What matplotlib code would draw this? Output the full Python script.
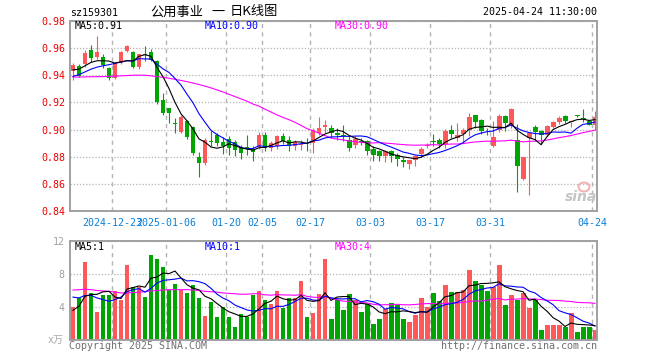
import numpy as np
import pandas as pd
import matplotlib
matplotlib.use("Agg")
import matplotlib.pyplot as plt
from matplotlib.patches import Ellipse

# daily candles, 2024-12-12 .. 2025-04-24 (88 trading days)
opens = [0.9432, 0.9469, 0.9481, 0.9588, 0.9533, 0.9533, 0.9452, 0.9378, 0.9488, 0.9580,
         0.9574, 0.9459, 0.9556, 0.9574, 0.9507, 0.9218, 0.9156, 0.9044, 0.8982, 0.9065,
         0.9021, 0.8800, 0.8751, 0.8918, 0.8958, 0.8906, 0.8933, 0.8906, 0.8872, 0.8868,
         0.8858, 0.8870, 0.8958, 0.8865, 0.8880, 0.8950, 0.8926, 0.8877, 0.8885, 0.8904,
         0.8902, 0.8975, 0.9022, 0.9011, 0.8975, 0.8963, 0.8923, 0.8883, 0.8914, 0.8914,
         0.8859, 0.8840, 0.8806, 0.8840, 0.8816, 0.8779, 0.8749, 0.8774, 0.8823, 0.8877,
         0.8914, 0.8921, 0.8897, 0.8995, 0.8941, 0.8966, 0.8995, 0.9106, 0.9074, 0.8998,
         0.8877, 0.8997, 0.9100, 0.9034, 0.8923, 0.8633, 0.8937, 0.9020, 0.8992, 0.8960,
         0.9021, 0.9058, 0.9102, 0.9055, 0.9104, 0.9082, 0.9065, 0.9034]
highs = [0.9494, 0.9480, 0.9583, 0.9620, 0.9686, 0.9555, 0.9460, 0.9495, 0.9580, 0.9620,
         0.9580, 0.9560, 0.9615, 0.9590, 0.9510, 0.9273, 0.9160, 0.9083, 0.9110, 0.9070,
         0.9025, 0.8838, 0.8935, 0.8988, 0.8975, 0.8943, 0.8950, 0.8926, 0.8887, 0.8958,
         0.8877, 0.8985, 0.8985, 0.8913, 0.8960, 0.8975, 0.8950, 0.8926, 0.8926, 0.8935,
         0.9012, 0.9090, 0.9070, 0.9036, 0.9010, 0.9030, 0.8950, 0.8950, 0.8935, 0.8925,
         0.8877, 0.8850, 0.8850, 0.8850, 0.8830, 0.8800, 0.8775, 0.8816, 0.8870, 0.8900,
         0.8965, 0.8938, 0.9005, 0.9037, 0.9050, 0.9012, 0.9124, 0.9110, 0.9078, 0.9010,
         0.9063, 0.9115, 0.9105, 0.9160, 0.9041, 0.8800, 0.8985, 0.9030, 0.9000, 0.9035,
         0.9065, 0.9100, 0.9110, 0.9058, 0.9110, 0.9150, 0.9070, 0.9136]
lows = [0.9365, 0.9385, 0.9460, 0.9500, 0.9520, 0.9450, 0.9368, 0.9370, 0.9480, 0.9570,
        0.9450, 0.9445, 0.9505, 0.9505, 0.9190, 0.9108, 0.9045, 0.8972, 0.8975, 0.8930,
        0.8810, 0.8653, 0.8740, 0.8882, 0.8877, 0.8820, 0.8816, 0.8804, 0.8780, 0.8816,
        0.8770, 0.8860, 0.8840, 0.8845, 0.8855, 0.8890, 0.8840, 0.8853, 0.8853, 0.8840,
        0.8828, 0.8963, 0.8975, 0.8938, 0.8926, 0.8914, 0.8840, 0.8865, 0.8885, 0.8816,
        0.8767, 0.8765, 0.8760, 0.8760, 0.8730, 0.8727, 0.8712, 0.8730, 0.8796, 0.8865,
        0.8877, 0.8865, 0.8865, 0.8938, 0.8914, 0.8902, 0.8951, 0.9012, 0.8970, 0.8960,
        0.8870, 0.8985, 0.8987, 0.9012, 0.8542, 0.8630, 0.8518, 0.8914, 0.8893, 0.8950,
        0.9010, 0.9040, 0.9050, 0.9021, 0.9090, 0.9058, 0.9030, 0.9000]
closes = [0.9476, 0.9395, 0.9563, 0.9526, 0.9575, 0.9477, 0.9383, 0.9488, 0.9574, 0.9616,
          0.9463, 0.9557, 0.9550, 0.9513, 0.9205, 0.9124, 0.9120, 0.9041, 0.9090, 0.8947,
          0.8825, 0.8751, 0.8923, 0.8912, 0.8901, 0.8877, 0.8865, 0.8853, 0.8828, 0.8860,
          0.8833, 0.8958, 0.8865, 0.8901, 0.8950, 0.8914, 0.8877, 0.8906, 0.8895, 0.8898,
          0.9000, 0.9012, 0.9030, 0.8975, 0.8963, 0.8950, 0.8867, 0.8929, 0.8905, 0.8840,
          0.8810, 0.8806, 0.8840, 0.8806, 0.8781, 0.8762, 0.8774, 0.8806, 0.8855, 0.8889,
          0.8905, 0.8892, 0.8988, 0.8970, 0.8963, 0.8995, 0.9094, 0.9057, 0.8988, 0.8994,
          0.8947, 0.9100, 0.9046, 0.9149, 0.8734, 0.8795, 0.8974, 0.8980, 0.8960, 0.9026,
          0.9058, 0.9083, 0.9065, 0.9058, 0.9101, 0.9078, 0.9034, 0.9095]
# volume, x 10k
volumes = [4.0, 5.1, 9.5, 5.7, 3.4, 5.5, 5.4, 6.0, 4.85, 9.1,
           6.4, 6.4, 5.25, 10.3, 9.8, 8.8, 6.1, 6.8, 6.1, 5.7,
           6.7, 5.1, 2.9, 4.6, 2.8, 4.0, 2.8, 1.6, 3.1, 2.8,
           5.5, 5.9, 4.9, 4.4, 5.9, 3.9, 5.1, 5.1, 7.1, 2.8,
           3.3, 5.6, 9.8, 2.5, 4.85, 3.6, 5.6, 4.85, 3.35, 4.36,
           1.94, 2.55, 3.76, 4.5, 4.3, 2.55, 2.2, 3.0, 5.1, 4.0,
           5.7, 4.7, 6.7, 5.8, 5.8, 6.06, 8.5, 7.15, 6.7, 5.9,
           6.4, 9.1, 4.2, 5.45, 4.85, 5.7, 3.9, 4.85, 1.2, 1.8,
           1.8, 1.8, 1.6, 3.3, 1.0, 1.6, 1.6, 1.2]

# moving-average values before the window is full
ma5_head = [0.9440, 0.9445, 0.9470, 0.9495]
ma10_head = [0.9392, 0.9405, 0.9425, 0.9445, 0.9460, 0.9470, 0.9478, 0.9488, 0.9497]
ma30_head = [0.9387, 0.9387, 0.9388, 0.9389, 0.9390, 0.9390, 0.9392, 0.9394, 0.9396, 0.9398,
             0.9400, 0.9401, 0.9400, 0.9396, 0.9390, 0.9385, 0.9378, 0.9370, 0.9362, 0.9353,
             0.9343, 0.9332, 0.9320, 0.9307, 0.9292, 0.9277, 0.9260, 0.9243, 0.9226]
vma5_head = [3.6, 4.1, 5.3, 5.5]
vma10_head = [5.2, 5.1, 5.4, 5.4, 5.1, 4.9, 4.7, 4.9, 5.2]
vma30_head = [6.06, 6.1, 6.15, 6.1, 6.0, 5.95, 5.9, 5.8, 5.7, 5.7,
              5.75, 5.8, 5.85, 5.95, 6.0, 6.05, 6.1, 6.1, 6.1, 6.1,
              6.06, 6.0, 5.9, 5.85, 5.8, 5.7, 5.65, 5.6, 5.55]

tick_idx = [7, 16, 26, 32, 40, 50, 60, 70, 87]
tick_labels = ["2024-12-23", "2025-01-06", "01-20", "02-05", "02-17",
               "03-03", "03-17", "03-31", "04-24"]
price_ticks = [0.84, 0.86, 0.88, 0.90, 0.92, 0.94, 0.96, 0.98]
vol_ticks = [0, 4, 8, 12]


def moving_avg(values, n, head):
    m = pd.Series(values).rolling(n).mean().to_numpy()
    m[:n - 1] = head
    return m


W, H = 660, 360
RED = "#ff5858"
GREEN = "#00a600"
FRAME = "#a0a0a0"
MONO = "DejaVu Sans Mono"
FS = 7.2


def box(l, t, r, b):
    return [l / W, 1 - b / H, (r - l) / W, (b - t) / H]


def ftext(x, y, s, **kw):
    kw.setdefault("family", MONO)
    kw.setdefault("fontsize", FS)
    kw.setdefault("va", "center")
    fig.text(x / W, 1 - y / H, s, **kw)


o = np.array(opens)
c = np.array(closes)
x = np.arange(len(c))
cols = np.where(c >= o, RED, GREEN)

fig = plt.figure(figsize=(W / 100, H / 100), dpi=100)
ax = fig.add_axes(box(70, 21, 597, 211))
axv = fig.add_axes(box(70, 241, 597, 340))

# price panel
ax.vlines(x, lows, highs, colors=cols, lw=0.8)
ax.bar(x, np.maximum(np.abs(c - o), 0.0006), bottom=np.minimum(o, c),
       width=0.83, color=cols, linewidth=0)
ax.plot(x, moving_avg(closes, 30, ma30_head), color="#ff00ff", lw=0.8)
ax.plot(x, moving_avg(closes, 10, ma10_head), color="#0000ff", lw=0.8)
ax.plot(x, moving_avg(closes, 5, ma5_head), color="black", lw=0.8)
ax.set_ylim(0.84, 0.98)
ax.set_yticks(price_ticks)
ax.set_yticklabels([f"{p:.2f}" for p in price_ticks], family=MONO, fontsize=FS)
ax.tick_params(axis="y", length=0, pad=3, labelcolor="#ee0000")

# volume panel
axv.bar(x, volumes, width=0.83, color=cols, linewidth=0)
axv.plot(x, moving_avg(volumes, 30, vma30_head), color="#ff00ff", lw=0.8)
axv.plot(x, moving_avg(volumes, 10, vma10_head), color="#0000ff", lw=0.8)
axv.plot(x, moving_avg(volumes, 5, vma5_head), color="black", lw=0.8)
axv.set_ylim(0, 12)
axv.set_yticks(vol_ticks)
axv.set_yticklabels(["", "4", "8", "12"], family=MONO, fontsize=FS)
axv.tick_params(axis="y", length=0, pad=4, labelcolor="#a0a0a0")

for a in (ax, axv):
    a.set_xlim(-0.5, 87.33)
    a.set_xticks([i - 0.5 for i in tick_idx])
    a.grid(axis="x", color="#b4b4b4", ls=(0, (3, 3)), lw=1.0)
    a.grid(axis="y", color="#b4b4b4", ls=(0, (1, 1.5)), lw=0.9)
    a.set_axisbelow(True)
    for s in a.spines.values():
        s.set_color(FRAME)
        s.set_linewidth(1.4)

ax.set_xticklabels(tick_labels, family=MONO, fontsize=FS, color="#0a80d8")
ax.tick_params(axis="x", length=0, pad=5)
axv.set_xticklabels([])
axv.tick_params(axis="x", length=0)

# header texts
ftext(70, 13, "sz159301", ha="left")
cjk = ["Noto Sans CJK SC", "DejaVu Sans"]
ftext(150, 12, "公用事业", ha="left", family=cjk, fontsize=9.5)
ftext(211, 12, "一", ha="left", family=cjk, fontsize=9.5)
ftext(230, 12, "日K线图", ha="left", family=cjk, fontsize=9.5)
ftext(597, 12, "2025-04-24 11:30:00", ha="right")

ftext(75, 26, "MA5:0.91", ha="left", color="black")
ftext(205, 26, "MA10:0.90", ha="left", color="#0000ff")
ftext(335, 26, "MA30:0.90", ha="left", color="#ff00ff")
ftext(75, 247, "MA5:1", ha="left", color="black")
ftext(205, 247, "MA10:1", ha="left", color="#0000ff")
ftext(335, 247, "MA30:4", ha="left", color="#ff00ff")

ftext(64, 340, "x万", ha="right", color="#a8a8a8", family=[MONO, "Noto Sans CJK SC"])
ftext(69, 346, "Copyright 2025 SINA.COM", ha="left", color="#707070")
ftext(597, 346, "http://finance.sina.com.cn", ha="right", color="#707070")

# sina watermark
fig.add_artist(Ellipse((584 / W, 1 - 187 / H), 11 / W, 9 / H, transform=fig.transFigure,
                       facecolor="none", edgecolor="#f2b4b4", lw=1.5))
ftext(581, 197, "sina", ha="center", color="#c4c4c4", family="DejaVu Sans",
      fontsize=10, fontweight="bold", style="italic")

fig.savefig("out.png", dpi=100)
